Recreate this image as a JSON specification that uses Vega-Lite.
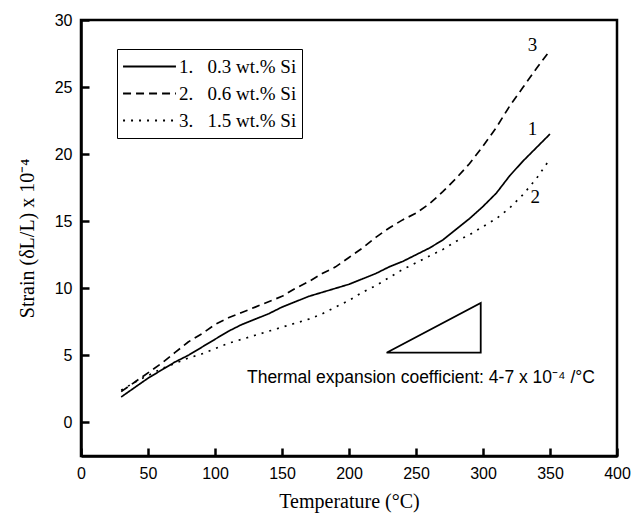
{
  "$schema": "https://vega.github.io/schema/vega-lite/v6.json",
  "width": 536,
  "height": 436,
  "autosize": {"type": "none"},
  "padding": {"left": 81, "top": 20, "right": 16, "bottom": 63},
  "background": "white",
  "config": {
    "view": {"stroke": "black", "strokeWidth": 2.5},
    "axis": {
      "domainColor": "black", "domainWidth": 2.5,
      "grid": false, "labelFont": "Liberation Sans", "labelFontSize": 16, "labelColor": "black"
    }
  },
  "datasets": {
    "curves": [
      {"T": 30, "strain": 1.9, "series": "1.\u00a0\u00a0 0.3 wt.% Si"},
      {"T": 40, "strain": 2.6, "series": "1.\u00a0\u00a0 0.3 wt.% Si"},
      {"T": 50, "strain": 3.3, "series": "1.\u00a0\u00a0 0.3 wt.% Si"},
      {"T": 60, "strain": 3.9, "series": "1.\u00a0\u00a0 0.3 wt.% Si"},
      {"T": 70, "strain": 4.5, "series": "1.\u00a0\u00a0 0.3 wt.% Si"},
      {"T": 80, "strain": 5.0, "series": "1.\u00a0\u00a0 0.3 wt.% Si"},
      {"T": 90, "strain": 5.6, "series": "1.\u00a0\u00a0 0.3 wt.% Si"},
      {"T": 100, "strain": 6.2, "series": "1.\u00a0\u00a0 0.3 wt.% Si"},
      {"T": 110, "strain": 6.8, "series": "1.\u00a0\u00a0 0.3 wt.% Si"},
      {"T": 120, "strain": 7.3, "series": "1.\u00a0\u00a0 0.3 wt.% Si"},
      {"T": 130, "strain": 7.7, "series": "1.\u00a0\u00a0 0.3 wt.% Si"},
      {"T": 140, "strain": 8.1, "series": "1.\u00a0\u00a0 0.3 wt.% Si"},
      {"T": 150, "strain": 8.6, "series": "1.\u00a0\u00a0 0.3 wt.% Si"},
      {"T": 160, "strain": 9.0, "series": "1.\u00a0\u00a0 0.3 wt.% Si"},
      {"T": 170, "strain": 9.4, "series": "1.\u00a0\u00a0 0.3 wt.% Si"},
      {"T": 180, "strain": 9.7, "series": "1.\u00a0\u00a0 0.3 wt.% Si"},
      {"T": 190, "strain": 10.0, "series": "1.\u00a0\u00a0 0.3 wt.% Si"},
      {"T": 200, "strain": 10.3, "series": "1.\u00a0\u00a0 0.3 wt.% Si"},
      {"T": 210, "strain": 10.7, "series": "1.\u00a0\u00a0 0.3 wt.% Si"},
      {"T": 220, "strain": 11.1, "series": "1.\u00a0\u00a0 0.3 wt.% Si"},
      {"T": 230, "strain": 11.6, "series": "1.\u00a0\u00a0 0.3 wt.% Si"},
      {"T": 240, "strain": 12.0, "series": "1.\u00a0\u00a0 0.3 wt.% Si"},
      {"T": 250, "strain": 12.5, "series": "1.\u00a0\u00a0 0.3 wt.% Si"},
      {"T": 260, "strain": 13.0, "series": "1.\u00a0\u00a0 0.3 wt.% Si"},
      {"T": 270, "strain": 13.6, "series": "1.\u00a0\u00a0 0.3 wt.% Si"},
      {"T": 280, "strain": 14.4, "series": "1.\u00a0\u00a0 0.3 wt.% Si"},
      {"T": 290, "strain": 15.2, "series": "1.\u00a0\u00a0 0.3 wt.% Si"},
      {"T": 300, "strain": 16.1, "series": "1.\u00a0\u00a0 0.3 wt.% Si"},
      {"T": 310, "strain": 17.1, "series": "1.\u00a0\u00a0 0.3 wt.% Si"},
      {"T": 320, "strain": 18.4, "series": "1.\u00a0\u00a0 0.3 wt.% Si"},
      {"T": 330, "strain": 19.5, "series": "1.\u00a0\u00a0 0.3 wt.% Si"},
      {"T": 340, "strain": 20.5, "series": "1.\u00a0\u00a0 0.3 wt.% Si"},
      {"T": 350, "strain": 21.5, "series": "1.\u00a0\u00a0 0.3 wt.% Si"},
      {"T": 30, "strain": 2.3, "series": "2.\u00a0\u00a0 0.6 wt.% Si"},
      {"T": 40, "strain": 3.0, "series": "2.\u00a0\u00a0 0.6 wt.% Si"},
      {"T": 50, "strain": 3.7, "series": "2.\u00a0\u00a0 0.6 wt.% Si"},
      {"T": 60, "strain": 4.4, "series": "2.\u00a0\u00a0 0.6 wt.% Si"},
      {"T": 70, "strain": 5.2, "series": "2.\u00a0\u00a0 0.6 wt.% Si"},
      {"T": 80, "strain": 6.0, "series": "2.\u00a0\u00a0 0.6 wt.% Si"},
      {"T": 90, "strain": 6.6, "series": "2.\u00a0\u00a0 0.6 wt.% Si"},
      {"T": 100, "strain": 7.3, "series": "2.\u00a0\u00a0 0.6 wt.% Si"},
      {"T": 110, "strain": 7.8, "series": "2.\u00a0\u00a0 0.6 wt.% Si"},
      {"T": 120, "strain": 8.2, "series": "2.\u00a0\u00a0 0.6 wt.% Si"},
      {"T": 130, "strain": 8.6, "series": "2.\u00a0\u00a0 0.6 wt.% Si"},
      {"T": 140, "strain": 9.0, "series": "2.\u00a0\u00a0 0.6 wt.% Si"},
      {"T": 150, "strain": 9.4, "series": "2.\u00a0\u00a0 0.6 wt.% Si"},
      {"T": 160, "strain": 10.0, "series": "2.\u00a0\u00a0 0.6 wt.% Si"},
      {"T": 170, "strain": 10.5, "series": "2.\u00a0\u00a0 0.6 wt.% Si"},
      {"T": 180, "strain": 11.1, "series": "2.\u00a0\u00a0 0.6 wt.% Si"},
      {"T": 190, "strain": 11.6, "series": "2.\u00a0\u00a0 0.6 wt.% Si"},
      {"T": 200, "strain": 12.3, "series": "2.\u00a0\u00a0 0.6 wt.% Si"},
      {"T": 210, "strain": 13.0, "series": "2.\u00a0\u00a0 0.6 wt.% Si"},
      {"T": 220, "strain": 13.8, "series": "2.\u00a0\u00a0 0.6 wt.% Si"},
      {"T": 230, "strain": 14.5, "series": "2.\u00a0\u00a0 0.6 wt.% Si"},
      {"T": 240, "strain": 15.1, "series": "2.\u00a0\u00a0 0.6 wt.% Si"},
      {"T": 250, "strain": 15.6, "series": "2.\u00a0\u00a0 0.6 wt.% Si"},
      {"T": 260, "strain": 16.3, "series": "2.\u00a0\u00a0 0.6 wt.% Si"},
      {"T": 270, "strain": 17.2, "series": "2.\u00a0\u00a0 0.6 wt.% Si"},
      {"T": 280, "strain": 18.2, "series": "2.\u00a0\u00a0 0.6 wt.% Si"},
      {"T": 290, "strain": 19.3, "series": "2.\u00a0\u00a0 0.6 wt.% Si"},
      {"T": 300, "strain": 20.6, "series": "2.\u00a0\u00a0 0.6 wt.% Si"},
      {"T": 310, "strain": 22.0, "series": "2.\u00a0\u00a0 0.6 wt.% Si"},
      {"T": 320, "strain": 23.6, "series": "2.\u00a0\u00a0 0.6 wt.% Si"},
      {"T": 330, "strain": 25.0, "series": "2.\u00a0\u00a0 0.6 wt.% Si"},
      {"T": 340, "strain": 26.4, "series": "2.\u00a0\u00a0 0.6 wt.% Si"},
      {"T": 349, "strain": 27.6, "series": "2.\u00a0\u00a0 0.6 wt.% Si"},
      {"T": 30, "strain": 2.4, "series": "3.\u00a0\u00a0 1.5 wt.% Si"},
      {"T": 40, "strain": 3.0, "series": "3.\u00a0\u00a0 1.5 wt.% Si"},
      {"T": 50, "strain": 3.5, "series": "3.\u00a0\u00a0 1.5 wt.% Si"},
      {"T": 60, "strain": 4.0, "series": "3.\u00a0\u00a0 1.5 wt.% Si"},
      {"T": 70, "strain": 4.4, "series": "3.\u00a0\u00a0 1.5 wt.% Si"},
      {"T": 80, "strain": 4.8, "series": "3.\u00a0\u00a0 1.5 wt.% Si"},
      {"T": 90, "strain": 5.1, "series": "3.\u00a0\u00a0 1.5 wt.% Si"},
      {"T": 100, "strain": 5.5, "series": "3.\u00a0\u00a0 1.5 wt.% Si"},
      {"T": 110, "strain": 5.9, "series": "3.\u00a0\u00a0 1.5 wt.% Si"},
      {"T": 120, "strain": 6.2, "series": "3.\u00a0\u00a0 1.5 wt.% Si"},
      {"T": 130, "strain": 6.5, "series": "3.\u00a0\u00a0 1.5 wt.% Si"},
      {"T": 140, "strain": 6.8, "series": "3.\u00a0\u00a0 1.5 wt.% Si"},
      {"T": 150, "strain": 7.1, "series": "3.\u00a0\u00a0 1.5 wt.% Si"},
      {"T": 160, "strain": 7.4, "series": "3.\u00a0\u00a0 1.5 wt.% Si"},
      {"T": 170, "strain": 7.7, "series": "3.\u00a0\u00a0 1.5 wt.% Si"},
      {"T": 180, "strain": 8.1, "series": "3.\u00a0\u00a0 1.5 wt.% Si"},
      {"T": 190, "strain": 8.6, "series": "3.\u00a0\u00a0 1.5 wt.% Si"},
      {"T": 200, "strain": 9.1, "series": "3.\u00a0\u00a0 1.5 wt.% Si"},
      {"T": 210, "strain": 9.7, "series": "3.\u00a0\u00a0 1.5 wt.% Si"},
      {"T": 220, "strain": 10.2, "series": "3.\u00a0\u00a0 1.5 wt.% Si"},
      {"T": 230, "strain": 10.8, "series": "3.\u00a0\u00a0 1.5 wt.% Si"},
      {"T": 240, "strain": 11.4, "series": "3.\u00a0\u00a0 1.5 wt.% Si"},
      {"T": 250, "strain": 11.9, "series": "3.\u00a0\u00a0 1.5 wt.% Si"},
      {"T": 260, "strain": 12.4, "series": "3.\u00a0\u00a0 1.5 wt.% Si"},
      {"T": 270, "strain": 12.9, "series": "3.\u00a0\u00a0 1.5 wt.% Si"},
      {"T": 280, "strain": 13.5, "series": "3.\u00a0\u00a0 1.5 wt.% Si"},
      {"T": 290, "strain": 14.0, "series": "3.\u00a0\u00a0 1.5 wt.% Si"},
      {"T": 300, "strain": 14.6, "series": "3.\u00a0\u00a0 1.5 wt.% Si"},
      {"T": 310, "strain": 15.2, "series": "3.\u00a0\u00a0 1.5 wt.% Si"},
      {"T": 320, "strain": 16.0, "series": "3.\u00a0\u00a0 1.5 wt.% Si"},
      {"T": 330, "strain": 17.0, "series": "3.\u00a0\u00a0 1.5 wt.% Si"},
      {"T": 340, "strain": 18.2, "series": "3.\u00a0\u00a0 1.5 wt.% Si"},
      {"T": 349, "strain": 19.5, "series": "3.\u00a0\u00a0 1.5 wt.% Si"}
    ],
    "curveLabels": [
      {"T": 337, "strain": 28.1, "label": "3"},
      {"T": 337, "strain": 21.9, "label": "1"},
      {"T": 339, "strain": 16.8, "label": "2"}
    ],
    "triangle": [
      {"T": 228, "strain": 5.2, "k": 1},
      {"T": 298.3, "strain": 8.9, "k": 2},
      {"T": 298.3, "strain": 5.2, "k": 3},
      {"T": 228, "strain": 5.2, "k": 4}
    ],
    "note": [
      {"T": 253.7, "strain": 3.3, "label": "Thermal expansion coefficient: 4-7 x 10\u207b\u2074 /\u00b0C"}
    ]
  },
  "layer": [
    {
      "data": {"name": "curves"},
      "mark": {"type": "line", "color": "black", "strokeWidth": 1.7},
      "encoding": {
        "x": {
          "field": "T", "type": "quantitative",
          "scale": {"domain": [0, 400], "nice": false, "zero": false},
          "axis": {
            "title": "Temperature (\u00b0C)",
            "titleFont": "Liberation Serif", "titleFontSize": 20, "titleFontWeight": "normal", "titleColor": "black",
            "values": [0, 25, 50, 75, 100, 125, 150, 175, 200, 225, 250, 275, 300, 325, 350, 375, 400],
            "labelExpr": "datum.value % 50 === 0 ? datum.label : ''",
            "labelFlush": false, "labelOverlap": false,
            "tickColor": "black", "tickWidth": 2.5, "tickSize": -8,
            "labelPadding": 17,
            "titlePadding": 10
          }
        },
        "y": {
          "field": "strain", "type": "quantitative",
          "scale": {"domain": [-2.5, 30], "nice": false, "zero": false},
          "axis": {
            "title": "Strain (\u03b4L/L) x 10\u207b\u2074",
            "titleFont": "Liberation Serif", "titleFontSize": 20, "titleFontWeight": "normal", "titleColor": "black",
            "values": [0, 2.5, 5, 7.5, 10, 12.5, 15, 17.5, 20, 22.5, 25, 27.5, 30],
            "labelExpr": "datum.value % 5 === 0 ? datum.label : ''",
            "labelFlush": false, "labelOverlap": false,
            "tickColor": "black", "tickWidth": 2.5, "tickSize": -8,
            "labelPadding": 17,
            "titlePadding": 17
          }
        },
        "strokeDash": {
          "field": "series", "type": "nominal",
          "scale": {
            "domain": ["1.\u00a0\u00a0 0.3 wt.% Si", "2.\u00a0\u00a0 0.6 wt.% Si", "3.\u00a0\u00a0 1.5 wt.% Si"],
            "range": [[1, 0], [8, 5], [2, 6]]
          },
          "legend": {
            "orient": "none", "legendX": 36, "legendY": 29, "title": null,
            "symbolType": "stroke", "symbolSize": 2800, "symbolStrokeWidth": 1.8,
            "symbolStrokeColor": "black", "clipHeight": 25, "rowPadding": 2, "padding": 5,
            "strokeColor": "black", "fillColor": "white",
            "labelFont": "Liberation Serif", "labelFontSize": 19, "labelOffset": 2,
            "labelColor": "black", "labelLimit": 300
          }
        }
      }
    },
    {
      "data": {"name": "triangle"},
      "mark": {"type": "line", "color": "black", "strokeWidth": 1.8},
      "encoding": {
        "x": {"field": "T", "type": "quantitative"},
        "y": {"field": "strain", "type": "quantitative"},
        "order": {"field": "k", "type": "quantitative"}
      }
    },
    {
      "data": {"name": "curveLabels"},
      "mark": {"type": "text", "font": "Liberation Serif", "fontSize": 19, "color": "black"},
      "encoding": {
        "x": {"field": "T", "type": "quantitative"},
        "y": {"field": "strain", "type": "quantitative"},
        "text": {"field": "label"}
      }
    },
    {
      "data": {"name": "note"},
      "mark": {"type": "text", "font": "Liberation Sans", "fontSize": 17.5, "color": "black"},
      "encoding": {
        "x": {"field": "T", "type": "quantitative"},
        "y": {"field": "strain", "type": "quantitative"},
        "text": {"field": "label"}
      }
    }
  ]
}
